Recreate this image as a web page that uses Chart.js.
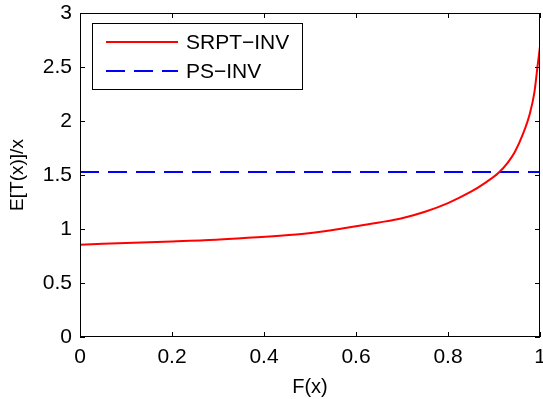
<!DOCTYPE html>
<html>
<head>
<meta charset="utf-8">
<script src="https://cdn.jsdelivr.net/npm/chart.js@4"></script>
<style>
  html, body { margin: 0; padding: 0; background: #fff; }
  #wrap { width: 543px; height: 399px; }
</style>
</head>
<body>
<div id="wrap"><canvas id="chart" width="543" height="399"></canvas></div>
<script>
// data
const fx = [0, 0.1, 0.2, 0.27, 0.35, 0.47, 0.55, 0.6, 0.65, 0.7, 0.75, 0.8, 0.85, 0.88, 0.91, 0.93, 0.945, 0.963, 0.978, 0.988, 0.995, 1.0];
const srptInv = [0.855, 0.87, 0.885, 0.895, 0.915, 0.948, 0.99, 1.025, 1.06, 1.10, 1.16, 1.24, 1.345, 1.425, 1.52, 1.615, 1.71, 1.88, 2.07, 2.27, 2.52, 2.69];
const psX = [0, 1];
const psInv = [1.528, 1.528];
const xTicks = [0, 0.2, 0.4, 0.6, 0.8, 1];
const yTicks = [0, 0.5, 1, 1.5, 2, 2.5, 3];

const FONT = '"Liberation Sans", Arial, Helvetica, sans-serif';

// matlab-style frame with inward ticks
const framePlugin = {
    id: 'frame',
    afterDatasetsDraw(chart) {
        const { ctx, chartArea: a, scales } = chart;
        ctx.save();
        ctx.strokeStyle = '#000';
        ctx.lineWidth = 1;
        ctx.strokeRect(a.left + 0.5, a.top + 0.5, a.right - a.left - 1, a.bottom - a.top - 1);
        ctx.beginPath();
        xTicks.forEach(v => {
            const px = Math.round(scales.x.getPixelForValue(v)) + 0.5;
            ctx.moveTo(px, a.bottom); ctx.lineTo(px, a.bottom - 5);
            ctx.moveTo(px, a.top); ctx.lineTo(px, a.top + 5);
        });
        yTicks.forEach(v => {
            const py = Math.round(scales.y.getPixelForValue(v)) + 0.5;
            ctx.moveTo(a.left, py); ctx.lineTo(a.left + 5, py);
            ctx.moveTo(a.right, py); ctx.lineTo(a.right - 5, py);
        });
        ctx.stroke();
        ctx.restore();
    }
};

// legend box in the top-left corner of the plot
const legendPlugin = {
    id: 'boxLegend',
    afterDraw(chart) {
        const { ctx } = chart;
        const x0 = 92, y0 = 23, w = 210, h = 66;
        ctx.save();
        ctx.fillStyle = '#fff';
        ctx.fillRect(x0, y0, w, h);
        ctx.strokeStyle = '#000';
        ctx.lineWidth = 1;
        ctx.strokeRect(x0 + 0.5, y0 + 0.5, w, h);
        ctx.font = '21px ' + FONT;
        ctx.textBaseline = 'middle';
        chart.data.datasets.forEach((ds, i) => {
            const y = y0 + 19 + i * 29;
            ctx.strokeStyle = ds.borderColor;
            ctx.lineWidth = ds.borderWidth;
            ctx.setLineDash(ds.borderDash || []);
            ctx.beginPath();
            ctx.moveTo(x0 + 14, y);
            ctx.lineTo(x0 + 86, y);
            ctx.stroke();
            ctx.setLineDash([]);
            ctx.fillStyle = '#000';
            ctx.fillText(ds.label, x0 + 94, y + 1);
        });
        ctx.restore();
    }
};

const fmt = v => String(Math.round(v * 10) / 10);

const ctx = document.getElementById('chart').getContext('2d');
const chart = new Chart(ctx, {
    type: 'line',
    data: {
        datasets: [{
            label: 'SRPT\u2212INV',
            data: fx.map((v, i) => ({ x: v, y: srptInv[i] })),
            borderColor: '#ff0000',
            borderWidth: 2,
            pointRadius: 0,
            cubicInterpolationMode: 'monotone',
            fill: false
        }, {
            label: 'PS\u2212INV',
            data: psX.map((v, i) => ({ x: v, y: psInv[i] })),
            borderColor: '#0000ff',
            borderWidth: 2,
            borderDash: [19, 9],
            pointRadius: 0,
            fill: false
        }]
    },
    options: {
        responsive: false,
        animation: false,
        layout: { padding: { top: 13, right: 3, left: 0, bottom: 0 } },
        plugins: {
            legend: { display: false },
            tooltip: { enabled: false }
        },
        scales: {
            x: {
                type: 'linear',
                min: 0,
                max: 1,
                afterBuildTicks: s => { s.ticks = xTicks.map(v => ({ value: v })); },
                afterFit: s => { s.height = 62; s.paddingLeft = 0; s.paddingRight = 0; },
                grid: { drawOnChartArea: false, tickLength: 0 },
                border: { display: false },
                ticks: { color: '#000', font: { family: FONT, size: 21 }, padding: 8, maxRotation: 0, callback: fmt },
                title: { display: true, text: 'F(x)', color: '#000', font: { family: FONT, size: 20 }, padding: { top: 0, bottom: 0 } }
            },
            y: {
                min: 0,
                max: 3,
                afterBuildTicks: s => { s.ticks = yTicks.map(v => ({ value: v })); },
                afterFit: s => { s.width = 80; s.paddingTop = 0; s.paddingBottom = 0; },
                grid: { drawOnChartArea: false, tickLength: 0 },
                border: { display: false },
                ticks: { color: '#000', font: { family: FONT, size: 21 }, padding: 8, callback: fmt },
                title: { display: true, text: 'E[T(x)]/x', color: '#000', font: { family: FONT, size: 19 }, padding: { top: 6, bottom: 0 } }
            }
        }
    },
    plugins: [framePlugin, legendPlugin]
});
</script>
</body>
</html>
